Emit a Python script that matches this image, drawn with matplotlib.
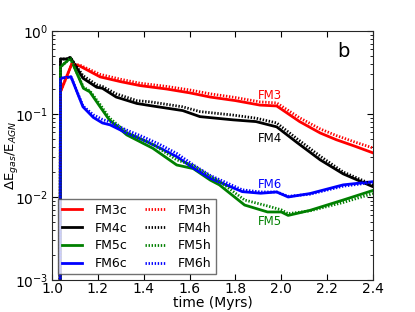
import matplotlib
matplotlib.use("Agg")
import matplotlib.pyplot as plt

# data
t3 = [1.035, 1.037, 1.086, 1.12, 1.21, 1.30, 1.384, 1.50, 1.60, 1.69, 1.80, 1.907, 1.98, 2.08, 2.17, 2.24, 2.32, 2.40]
fm3c = [1e-4, 0.185, 0.40, 0.38, 0.28, 0.245, 0.22, 0.20, 0.18, 0.16, 0.145, 0.128, 0.125, 0.081, 0.059, 0.049, 0.041, 0.034]
fm3h = [1e-4, 0.185, 0.40, 0.39, 0.30, 0.262, 0.235, 0.215, 0.195, 0.175, 0.158, 0.14, 0.136, 0.09, 0.066, 0.055, 0.046, 0.039]

t4 = [1.035, 1.037, 1.064, 1.08, 1.135, 1.195, 1.22, 1.28, 1.37, 1.43, 1.57, 1.645, 1.79, 1.89, 1.98, 2.07, 2.17, 2.27, 2.40]
fm4c = [1e-4, 0.46, 0.46, 0.48, 0.27, 0.21, 0.204, 0.16, 0.134, 0.126, 0.11, 0.093, 0.085, 0.081, 0.07, 0.045, 0.028, 0.019, 0.0133]
fm4h = [1e-4, 0.46, 0.46, 0.48, 0.29, 0.225, 0.215, 0.175, 0.145, 0.14, 0.122, 0.107, 0.097, 0.089, 0.078, 0.05, 0.031, 0.02, 0.014]

t5 = [1.035, 1.037, 1.08, 1.137, 1.165, 1.21, 1.25, 1.326, 1.44, 1.544, 1.616, 1.69, 1.73, 1.84, 1.94, 2.00, 2.03, 2.125, 2.27, 2.40]
fm5c = [1e-4, 0.37, 0.47, 0.204, 0.185, 0.122, 0.085, 0.056, 0.0386, 0.0243, 0.022, 0.016, 0.014, 0.008, 0.0066, 0.0066, 0.006, 0.0069, 0.0092, 0.012]
fm5h = [1e-4, 0.37, 0.47, 0.21, 0.19, 0.13, 0.09, 0.06, 0.043, 0.028, 0.024, 0.0178, 0.0155, 0.0092, 0.0078, 0.007, 0.0063, 0.0068, 0.0086, 0.011]

t6 = [1.035, 1.037, 1.083, 1.135, 1.18, 1.22, 1.253, 1.32, 1.398, 1.47, 1.544, 1.62, 1.69, 1.83, 1.91, 1.98, 2.03, 2.125, 2.27, 2.40]
fm6c = [1e-4, 0.27, 0.28, 0.122, 0.091, 0.078, 0.074, 0.06, 0.0486, 0.039, 0.0306, 0.022, 0.0168, 0.0116, 0.0111, 0.0115, 0.010, 0.011, 0.014, 0.0153]
fm6h = [1e-4, 0.27, 0.28, 0.125, 0.098, 0.086, 0.08, 0.065, 0.053, 0.043, 0.0335, 0.024, 0.0182, 0.0122, 0.0115, 0.0115, 0.0102, 0.0108, 0.0135, 0.015]

xticks = [1.0, 1.2, 1.4, 1.6, 1.8, 2.0, 2.2, 2.4]

plt.rcParams['font.family'] = ['DejaVu Sans']
plt.rcParams['mathtext.fontset'] = 'dejavusans'

fig = plt.figure(figsize=(4.15, 3.12), dpi=100)
ax = fig.add_axes([52/415, 1 - 280/312, (373-52)/415, (280-31)/312])

lw = 2.0
dots = (0.5, 0.6)
ax.plot(t3, fm3c, color='r', lw=lw, label='FM3c')
ax.plot(t4, fm4c, color='k', lw=lw, label='FM4c')
ax.plot(t5, fm5c, color='g', lw=lw, label='FM5c')
ax.plot(t6, fm6c, color='b', lw=lw, label='FM6c')
ax.plot(t3, fm3h, color='r', lw=lw, dashes=dots, label='FM3h')
ax.plot(t4, fm4h, color='k', lw=lw, dashes=dots, label='FM4h')
ax.plot(t5, fm5h, color='g', lw=lw, dashes=dots, label='FM5h')
ax.plot(t6, fm6h, color='b', lw=lw, dashes=dots, label='FM6h')

ax.set_yscale('log')
ax.set_xlim(1.0, 2.4)
ax.set_ylim(1e-3, 1.0)
ax.set_xticks(xticks)
ax.set_xticklabels([f"{v:.1f}" for v in xticks])
ax.tick_params(which='both', direction='in', top=True, right=True, labelsize=10)
ax.tick_params(axis='x', pad=1.5)
ax.tick_params(axis='y', pad=3)
ax.tick_params(which='major', length=4)
ax.tick_params(which='minor', length=2)
for s in ax.spines.values():
    s.set_color('0.15')

ax.set_xlabel('time (Myrs)', fontsize=10, labelpad=0)
ax.set_ylabel(r'$\Delta$E$_{gas}$/E$_{AGN}$', fontsize=9.5)
ax.yaxis.set_label_coords(-32/321, 0.5)

ax.text(1.951, 0.169, 'FM3', color='r', fontsize=8.5, ha='center', va='center')
ax.text(1.951, 0.051, 'FM4', color='k', fontsize=8.5, ha='center', va='center')
ax.text(1.951, 0.0143, 'FM6', color='b', fontsize=8.5, ha='center', va='center')
ax.text(1.951, 0.005, 'FM5', color='g', fontsize=8.5, ha='center', va='center')
ax.text(2.273, 0.56, 'b', color='k', fontsize=14, ha='center', va='center')

leg = ax.legend(loc='lower left', ncol=2, fontsize=9, frameon=True, fancybox=False,
                handlelength=1.6, columnspacing=1.4, borderaxespad=0.45,
                labelspacing=0.38, handletextpad=1.0, borderpad=0.35)
leg.get_frame().set_edgecolor('0.3')
leg.get_frame().set_linewidth(1.0)

fig.savefig('out.png', dpi=100)
